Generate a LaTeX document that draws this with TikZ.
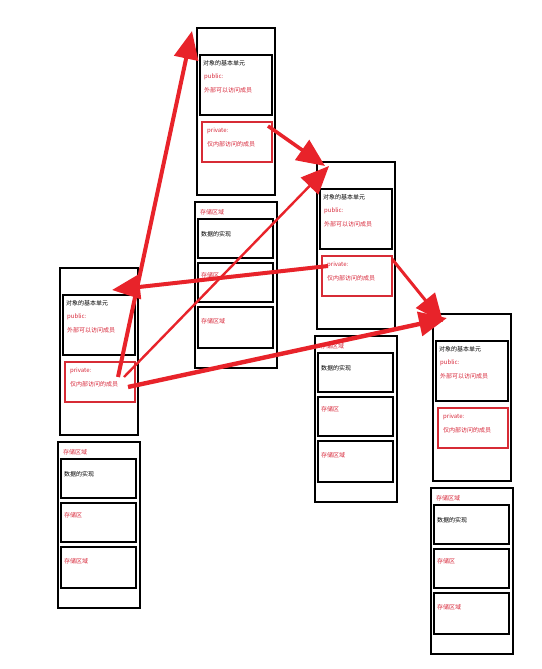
\documentclass[tikz,border=0pt]{standalone}
\usepackage{fontspec}
\newfontfamily\cjk{Noto Sans CJK SC}
\usetikzlibrary{arrows.meta}
\definecolor{arrowred}{HTML}{E8232A}
\definecolor{boxred}{HTML}{D72B35}
\definecolor{textred}{HTML}{D8283A}

\tikzset{
  outerbox/.style={draw=black,line width=1.6pt,anchor=north west,inner sep=0pt,outer sep=0pt},
  pubbox/.style={draw=black,line width=2.4pt,anchor=north west,inner sep=0pt,outer sep=0pt,
    minimum width=72,minimum height=60},
  privbox/.style={draw=boxred,line width=1.4pt,anchor=north west,inner sep=0pt,outer sep=0pt,
    minimum width=70,minimum height=40},
  fieldbox/.style={draw=black,line width=2pt,anchor=north west,inner sep=0pt,outer sep=0pt,
    minimum width=75,minimum height=39},
  txt/.style={anchor=north west,inner sep=0pt,font=\cjk\fontsize{6}{7}\selectfont},
  link/.style={draw=arrowred,line width=3.6pt,-{Triangle[length=28pt,width=24pt]}}
}

\begin{document}
\begin{tikzpicture}[x=1pt,y=-1pt]
  \useasboundingbox[fill=white] (0,0) rectangle (541,669);
  % four linked stacks
  \foreach \n/\x/\y in {a/197/28, b/60/268, c/317/162, d/433/314}{
    \node[outerbox,minimum width=78,minimum height=167] (\n-top) at (\x,\y) {};
    \node[pubbox] (\n-pub) at ([shift={(3,27)}]\n-top.north west) {};
    \node[txt] (\n-t1) at ([shift={(3,5)}]\n-pub.north west) {对象的基本单元};
    \node[txt,textred] (\n-t2) at ([shift={(4,19)}]\n-pub.north west) {public:};
    \node[txt,textred] (\n-t3) at ([shift={(4,32)}]\n-pub.north west) {外部可以访问成员};
    \node[privbox] (\n-priv) at ([shift={(5,94)}]\n-top.north west) {};
    \node[txt,textred] (\n-t4) at ([shift={(5,6)}]\n-priv.north west) {private:};
    \node[txt,textred] (\n-t5) at ([shift={(5,19)}]\n-priv.north west) {仅内部访问的成员};
    \node[outerbox,minimum width=82,minimum height=166] (\n-low) at ([shift={(-2,174)}]\n-top.north west) {};
    \node[txt,textred] (\n-t6) at ([shift={(5,7)}]\n-low.north west) {存储区域};
    \node[fieldbox] (\n-f1) at ([shift={(3,17)}]\n-low.north west) {};
    \node[fieldbox] (\n-f2) at ([shift={(3,61)}]\n-low.north west) {};
    \node[fieldbox,minimum height=41] (\n-f3) at ([shift={(3,105)}]\n-low.north west) {};
    \node[txt] (\n-t7) at ([shift={(3,12)}]\n-f1.north west) {数据的实现};
    \node[txt,textred] (\n-t8) at ([shift={(3,9)}]\n-f2.north west) {存储区};
    \node[txt,textred] (\n-t9) at ([shift={(3,11)}]\n-f3.north west) {存储区域};
  }

  % links between the stacks
  \draw[link,line width=4pt] ([shift={(-17,-5)}]b-priv.east) -- ([shift={(-5,3)}]a-top.north west);
  \draw[link,line width=2.4pt] ([shift={(-11,-5)}]b-priv.east) -- ([shift={(12,4)}]c-top.north west);
  \draw[link,line width=4.4pt] ([shift={(-7,5)}]b-priv.east) -- ([shift={(14,4)}]d-top.north west);
  \draw[link] ([shift={(-4,4)}]a-priv.north east) -- ([shift={(8,4)}]c-top.north west);
  \draw[link,line width=4pt] ([shift={(6,-10)}]c-priv.west) -- ([shift={(52,22)}]b-top.north west);
  \draw[link,line width=3pt] ([shift={(0,3)}]c-priv.north east) -- ([shift={(10,8)}]d-top.north west);
\end{tikzpicture}
\end{document}
